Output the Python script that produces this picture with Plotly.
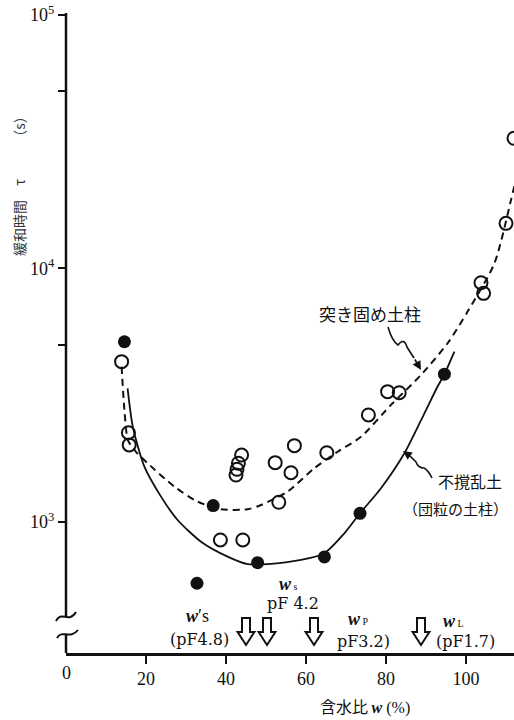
import plotly.graph_objects as go

# ---------------- data ----------------
# open circles : 突き固め土柱 (compacted soil column)
open_x = [13.9, 15.6, 15.8, 43.9, 43.1, 42.75, 42.5, 52.3, 57.1, 56.25, 65.2,
          53.2, 38.6, 44.2, 80.4, 83.3, 75.6, 103.75, 104.4, 110.0, 112.0]
open_y = [4290, 2250, 2014, 1837, 1705, 1614, 1531, 1714, 2000, 1564, 1875,
          1196, 849, 849, 3266, 3236, 2643, 8790, 7980, 15070, 32650]

# filled circles : 不撹乱土 (undisturbed soil)
filled_x = [14.6, 36.8, 47.9, 64.6, 73.5, 94.6, 32.75]
filled_y = [5140, 1160, 691, 728, 1082, 3830, 573]

# hand-drawn trend curves
dash_x = [13.9, 14.6, 15.5, 17.5, 20.4, 27.1, 32.9, 38.75, 45.4, 48.75, 55.4,
          62.1, 67.9, 73.75, 81.25, 88.75, 95.4, 100.4, 107.1, 111.25, 112.25]
dash_y = [4100, 2770, 2100, 1890, 1706, 1378, 1203, 1122, 1122, 1167, 1318,
          1630, 1892, 2168, 2897, 3802, 5070, 6760, 10470, 18620, 21700]

solid_x = [15.4, 16.7, 19.6, 23.75, 27.9, 33.75, 40.4, 45.4, 50.4, 58.75, 64.6,
           69.6, 73.5, 78.75, 84.6, 89.6, 92.9, 94.6, 97.1]
solid_y = [3365, 2376, 1652, 1259, 1018, 836, 730, 682, 682, 708, 753,
           902, 1082, 1359, 1866, 2684, 3422, 3830, 4700]

# consistency limits (arrows on the w axis)
limit_x = [45.0, 50.25, 62.0, 88.75]

x_ticks = [20, 40, 60, 80, 100]
y_ticks = [1000, 5000, 10000, 50000, 100000]
y_ticktext = ["10<sup>3</sup>", "", "10<sup>4</sup>", "", "10<sup>5</sup>"]

# ---------------- layout geometry ----------------
L, T, W, H = 66, 13, 448, 640
FIG_W, FIG_H = 514, 720


def px(x):
    return (x - L) / W


def py(y):
    return (T + H - y) / H


SERIF = "Liberation Serif, DejaVu Serif, serif"
WIDE = "DejaVu Serif, serif"
CJK = "Noto Sans CJK JP, Noto Sans CJK SC, sans-serif"
INK = "#111111"

fig = go.Figure()

fig.add_trace(go.Scatter(x=dash_x, y=dash_y, mode="lines",
                         line=dict(color=INK, width=2, dash="7px,5px",
                                   shape="spline", smoothing=0.7),
                         hoverinfo="skip"))
fig.add_trace(go.Scatter(x=solid_x, y=solid_y, mode="lines",
                         line=dict(color=INK, width=1.8,
                                   shape="spline", smoothing=0.7),
                         hoverinfo="skip"))
fig.add_trace(go.Scatter(x=open_x, y=open_y, mode="markers", cliponaxis=False,
                         marker=dict(symbol="circle-open", size=13,
                                     color=INK, line=dict(width=2, color=INK))))
fig.add_trace(go.Scatter(x=filled_x, y=filled_y, mode="markers", cliponaxis=False,
                         marker=dict(symbol="circle", size=13, color=INK)))

shapes = []
# y axis line with a break near the bottom
shapes.append(dict(type="line", xref="paper", yref="paper",
                   x0=0, x1=0, y0=1.0, y1=py(616),
                   line=dict(color=INK, width=2.5)))
shapes.append(dict(type="line", xref="paper", yref="paper",
                   x0=0, x1=0, y0=py(634), y1=0,
                   line=dict(color=INK, width=2.5)))
for (a, b, c, d) in [((56, 621), (61, 610), (69, 624), (76, 612)),
                     ((57, 638), (62, 629), (70, 640), (78, 630))]:
    path = (f"M {px(a[0])},{py(a[1])} C {px(b[0])},{py(b[1])} "
            f"{px(c[0])},{py(c[1])} {px(d[0])},{py(d[1])}")
    shapes.append(dict(type="path", xref="paper", yref="paper", path=path,
                       line=dict(color=INK, width=2)))

# hollow down arrows at the consistency limits
top, hb, tip = py(618), py(632), py(645)
for ax in limit_x:
    p = (f"M {ax-1.0},{top} L {ax+1.0},{top} L {ax+1.0},{hb} L {ax+2.1},{hb} "
         f"L {ax},{tip} L {ax-2.1},{hb} L {ax-1.0},{hb} Z")
    shapes.append(dict(type="path", xref="x", yref="paper", path=p,
                       fillcolor="white", line=dict(color=INK, width=2)))

# wiggly leader lines
def wpath(pts):
    s = f"M {px(pts[0][0])},{py(pts[0][1])}"
    i = 1
    while i + 1 < len(pts):
        s += (f" Q {px(pts[i][0])},{py(pts[i][1])} "
              f"{px(pts[i+1][0])},{py(pts[i+1][1])}")
        i += 2
    return s

shapes.append(dict(type="path", xref="paper", yref="paper",
                   path=wpath([(388, 327), (392, 341), (398, 345), (404, 337),
                               (407, 347), (410, 352), (414, 358)]),
                   line=dict(color=INK, width=1.6)))
shapes.append(dict(type="path", xref="paper", yref="paper",
                   path=wpath([(432, 478), (428, 470), (424, 468), (418, 468),
                               (416, 462), (413, 459), (410, 456)]),
                   line=dict(color=INK, width=1.6)))

ann = []
def txt(x, y, s, size, family=SERIF, color=INK, **kw):
    ann.append(dict(x=px(x), y=py(y), xref="paper", yref="paper", text=s,
                    showarrow=False, xanchor="center", yanchor="middle",
                    font=dict(family=family, size=size, color=color), **kw))

# arrowheads of the wiggly leaders
for (tx, ty, sx, sy) in [(421, 370, 414, 358), (403, 451, 410, 456)]:
    ann.append(dict(x=px(tx), y=py(ty), xref="paper", yref="paper", text="",
                    showarrow=True, ax=sx - tx, ay=sy - ty, arrowhead=2,
                    arrowsize=1.1, arrowwidth=1.6, arrowcolor=INK))

txt(370, 313, "突き固め土柱", 17, CJK)
txt(470, 481, "不撹乱土", 16, CJK)
txt(455, 508, "（団粒の土柱）", 15, CJK)

W_B = "<b><i>w</i></b>"
txt(197, 616, W_B + "′s", 18)
txt(199, 639, "(pF4.8)", 16, WIDE)
txt(288, 584, W_B + "<span style='font-size:10px'> s</span>", 18)
txt(293, 603, "pF 4.2", 16, WIDE)
txt(358, 619, W_B + "<span style='font-size:10px'> P</span>", 18)
txt(363, 641, "pF3.2)", 16, WIDE)
txt(453, 621, W_B + "<span style='font-size:10px'> L</span>", 18)
txt(465, 641, "(pF1.7)", 16, WIDE)

txt(66, 673, "0", 18)
txt(365, 706, "含水比 " + "<span style='font-family:Liberation Serif'>"
    + W_B + " (%)</span>", 16, CJK)
txt(19, 183, "緩和時間　τ　　　（s）", 14, CJK, color="#333333", textangle=-90)

fig.update_layout(
    width=FIG_W, height=FIG_H,
    margin=dict(l=L, r=FIG_W - L - W, t=T, b=FIG_H - T - H, pad=0),
    paper_bgcolor="white", plot_bgcolor="white",
    showlegend=False,
    shapes=shapes, annotations=ann,
    xaxis=dict(range=[0, 112], tickvals=x_ticks, ticks="outside", ticklen=8,
               tickwidth=2, tickcolor=INK, showline=True, linewidth=2.5,
               linecolor=INK, showgrid=False, zeroline=False,
               tickfont=dict(family=SERIF, size=18, color=INK)),
    yaxis=dict(type="log", range=[2.483, 5.008], tickvals=y_ticks,
               ticktext=y_ticktext, ticks="outside", ticklen=7, tickwidth=2,
               tickcolor=INK, showline=False, showgrid=False, zeroline=False,
               tickfont=dict(family=SERIF, size=18, color=INK)),
)

fig.write_html("out.html")
